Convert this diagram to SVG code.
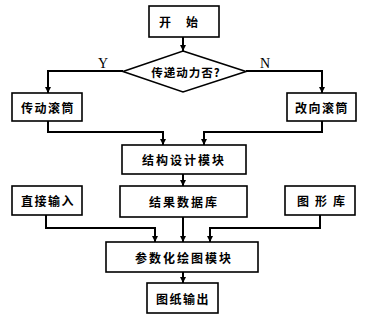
<svg xmlns="http://www.w3.org/2000/svg" width="365" height="322" viewBox="0 0 365 322">
<style>
.box{fill:#fff;stroke:#000;stroke-width:1.6}
.t{font-family:"Noto Sans CJK SC","Noto Sans",sans-serif;font-size:12px;font-weight:bold;fill:#000;text-anchor:middle;dominant-baseline:central;letter-spacing:1.5px}
.lbl{font-family:"Liberation Serif",serif;font-size:14px;fill:#000;text-anchor:middle}
.c{fill:none;stroke:#000;stroke-width:2}
</style>
<defs>
<marker id="d" markerUnits="userSpaceOnUse" markerWidth="6" markerHeight="7" refX="6" refY="3" orient="auto" viewBox="0 0 6 6">
<path d="M0,0 L6,3 L0,6 Z" fill="#000"/>
</marker>
</defs>
<g id="connectors">
<line class="c" x1="183" y1="37" x2="183" y2="51" marker-end="url(#d)"/>
<polyline class="c" points="123,71 48,71 48,93" marker-end="url(#d)"/>
<polyline class="c" points="246,71 322,71 322,93" marker-end="url(#d)"/>
<polyline class="c" points="48,121 48,132 163,132 163,145" marker-end="url(#d)"/>
<polyline class="c" points="322,121 322,132 204,132 204,145" marker-end="url(#d)"/>
<line class="c" x1="183" y1="174" x2="183" y2="186" marker-end="url(#d)"/>
<polyline class="c" points="46,215 46,228 155,228 155,242" marker-end="url(#d)"/>
<line class="c" x1="183" y1="217" x2="183" y2="242" marker-end="url(#d)"/>
<polyline class="c" points="320,215 320,228 210,228 210,242" marker-end="url(#d)"/>
<line class="c" x1="183" y1="272" x2="183" y2="283" marker-end="url(#d)"/>
<text class="lbl" x="103" y="68">Y</text>
<text class="lbl" x="265" y="68">N</text>
</g>
<g id="start"><rect class="box" x="149" y="6" width="70" height="31"/><text class="t" x="186" y="21" style="letter-spacing:15px">开始</text></g>
<g id="decision"><polygon class="box" points="183,51 246,71.5 183,92 123,71.5"/><text class="t" x="186" y="71.5" style="letter-spacing:1px;font-size:11.5px">传递动力否?</text></g>
<g id="chuandong"><rect class="box" x="12" y="93" width="70" height="28"/><text class="t" x="48" y="107">传动滚筒</text></g>
<g id="gaixiang"><rect class="box" x="287" y="93" width="69" height="28"/><text class="t" x="322" y="107">改向滚筒</text></g>
<g id="jiegou"><rect class="box" x="122" y="145" width="124" height="29"/><text class="t" x="184" y="159.5" style="letter-spacing:2px">结构设计模块</text></g>
<g id="zhijie"><rect class="box" x="12" y="186" width="70" height="29"/><text class="t" x="48" y="200.5">直接输入</text></g>
<g id="jieguo"><rect class="box" x="120" y="186" width="127" height="31"/><text class="t" x="184" y="201.5" style="letter-spacing:2px">结果数据库</text></g>
<g id="tuxing"><rect class="box" x="285" y="186" width="70" height="29"/><text class="t" x="324" y="200.5" style="letter-spacing:6px">图形库</text></g>
<g id="canshu"><rect class="box" x="106" y="242" width="152" height="30"/><text class="t" x="184" y="257" style="letter-spacing:2px">参数化绘图模块</text></g>
<g id="tuzhi"><rect class="box" x="147" y="283" width="71" height="30"/><text class="t" x="183" y="298">图纸输出</text></g>
</svg>
